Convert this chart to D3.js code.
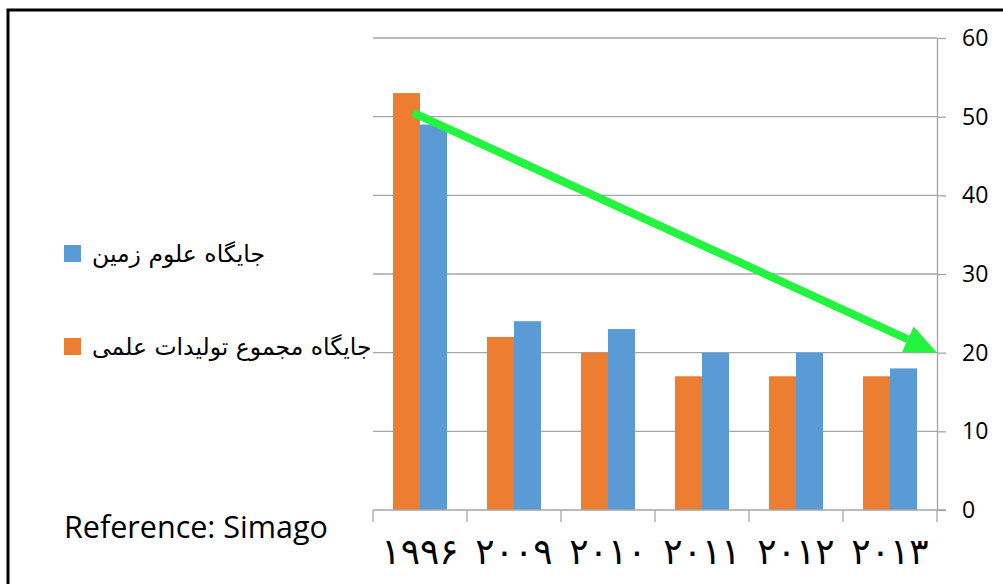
<!DOCTYPE html>
<html lang="fa">
  <head>
    <meta charset="UTF-8" />
    <title>جایگاه علوم زمین</title>
    <script src="https://d3js.org/d3.v7.min.js"></script>
    <style>
      body {
        margin: 0;
        background: #fff;
      }
      svg {
        display: block;
      }
      .grid line {
        stroke: #a6a6a6;
        stroke-width: 1.3px;
      }
      .axis path,
      .axis line {
        stroke: #a6a6a6;
        stroke-width: 1.3px;
      }
      .axis text {
        fill: #000;
      }
    </style>
  </head>
  <body>
    <svg id="chart" width="1003" height="584"></svg>

    <script>
      // data
      const years = ["1996", "2009", "2010", "2011", "2012", "2013"];
      const yearLabels = ["۱۹۹۶", "۲۰۰۹", "۲۰۱۰", "۲۰۱۱", "۲۰۱۲", "۲۰۱۳"];
      const totalRank = [53, 22, 20, 17, 17, 17]; // جایگاه مجموع تولیدات علمی
      const earthRank = [49, 24, 23, 20, 20, 18]; // جایگاه علوم زمین
      const yTicks = [0, 10, 20, 30, 40, 50, 60];
      const seriesNames = ["جایگاه علوم زمین", "جایگاه مجموع تولیدات علمی"];
      const seriesColors = ["#5b9bd5", "#ed7d31"];
      // trend arrow: from 1996 to end of axis
      const trendFrom = 50.5;
      const trendTo = 20;

      const svg = d3.select("#chart");

      // frame
      svg
        .append("rect")
        .attr("x", 8)
        .attr("y", 10)
        .attr("width", 1010)
        .attr("height", 600)
        .attr("fill", "none")
        .attr("stroke", "#000")
        .attr("stroke-width", 3);

      const margin = { left: 373, right: 66, top: 38, bottom: 74 };
      const W = 1003 - margin.left - margin.right;
      const H = 584 - margin.top - margin.bottom;

      const g = svg
        .append("g")
        .attr("transform", `translate(${margin.left},${margin.top})`);

      const x = d3.scaleBand().domain(years).range([0, W]);
      const x1 = d3
        .scaleBand()
        .domain(["total", "earth"])
        .range([0, x.bandwidth()])
        .paddingOuter(0.74)
        .paddingInner(0);
      const y = d3.scaleLinear().domain([0, 60]).range([H, 0]);

      // gridlines
      g.append("g")
        .attr("class", "grid")
        .selectAll("line")
        .data(yTicks.filter((d) => d > 0))
        .join("line")
        .attr("x1", 0)
        .attr("x2", W)
        .attr("y1", (d) => y(d))
        .attr("y2", (d) => y(d));

      // bars
      const rows = years.map((yr, i) => ({
        year: yr,
        total: totalRank[i],
        earth: earthRank[i],
      }));
      g.append("g")
        .selectAll("g")
        .data(rows)
        .join("g")
        .attr("transform", (d) => `translate(${x(d.year)},0)`)
        .selectAll("rect")
        .data((d) => [
          { key: "total", v: d.total, c: seriesColors[1] },
          { key: "earth", v: d.earth, c: seriesColors[0] },
        ])
        .join("rect")
        .attr("x", (d) => x1(d.key))
        .attr("width", x1.bandwidth())
        .attr("y", (d) => y(d.v))
        .attr("height", (d) => H - y(d.v))
        .attr("fill", (d) => d.c);

      // y axis on the right
      const yAxis = g
        .append("g")
        .attr("class", "axis")
        .attr("transform", `translate(${W},0)`)
        .call(
          d3.axisRight(y).tickValues(yTicks).tickSize(9).tickSizeOuter(0)
        );
      yAxis
        .selectAll("text")
        .attr("x", 25)
        .style("font-family", "'Open Sans', sans-serif")
        .style("font-size", "23px");

      // x axis with ticks at band boundaries
      const xAxisG = g
        .append("g")
        .attr("class", "axis")
        .attr("transform", `translate(0,${H})`);
      xAxisG
        .append("line")
        .attr("x1", 0)
        .attr("x2", W + 9)
        .attr("y1", 0)
        .attr("y2", 0);
      xAxisG
        .selectAll(".tk")
        .data(years.concat(["end"]))
        .join("line")
        .attr("class", "tk")
        .attr("x1", (d, i) => (i < years.length ? x(d) : W))
        .attr("x2", (d, i) => (i < years.length ? x(d) : W))
        .attr("y1", 0)
        .attr("y2", 12);
      xAxisG
        .selectAll("text")
        .data(years)
        .join("text")
        .attr("x", (d) => x(d) + x.bandwidth() / 2)
        .attr("y", 54)
        .attr("text-anchor", "middle")
        .style("font-family", "'DejaVu Sans', sans-serif")
        .style("font-size", "36px")
        .style("direction", "ltr")
        .text((d, i) => yearLabels[i]);

      // trend arrow
      const ax0 = x(years[0]) + x.bandwidth() / 2 - 7;
      const ay0 = y(trendFrom);
      const ax1 = W;
      const ay1 = y(trendTo);
      const ang = Math.atan2(ay1 - ay0, ax1 - ax0);
      const headLen = 32;
      const headW = 14;
      const bx = ax1 - headLen * Math.cos(ang);
      const by = ay1 - headLen * Math.sin(ang);
      g.append("line")
        .attr("x1", ax0)
        .attr("y1", ay0)
        .attr("x2", bx)
        .attr("y2", by)
        .attr("stroke", "#22f43f")
        .attr("stroke-width", 8);
      g.append("path")
        .attr(
          "d",
          d3.line()([
            [ax1, ay1],
            [bx + headW * Math.sin(ang), by - headW * Math.cos(ang)],
            [bx - headW * Math.sin(ang), by + headW * Math.cos(ang)],
          ]) + "Z"
        )
        .attr("fill", "#22f43f");

      // legend
      const legend = svg
        .append("g")
        .selectAll("g")
        .data(seriesNames)
        .join("g")
        .attr("transform", (d, i) => `translate(64,${245 + i * 93})`);
      legend
        .append("rect")
        .attr("width", 17)
        .attr("height", 17)
        .attr("fill", (d, i) => seriesColors[i]);
      legend
        .append("text")
        .attr("x", 28)
        .attr("y", 17)
        .style("font-family", "'DejaVu Sans', sans-serif")
        .style("font-size", "23.5px")
        .style("direction", "rtl")
        .attr("text-anchor", "end")
        .text((d) => d);

      // source note
      svg
        .append("text")
        .attr("x", 64)
        .attr("y", 538)
        .style("font-family", "'Open Sans', sans-serif")
        .style("font-size", "30.5px")
        .text("Reference: Simago");
    </script>
  </body>
</html>
